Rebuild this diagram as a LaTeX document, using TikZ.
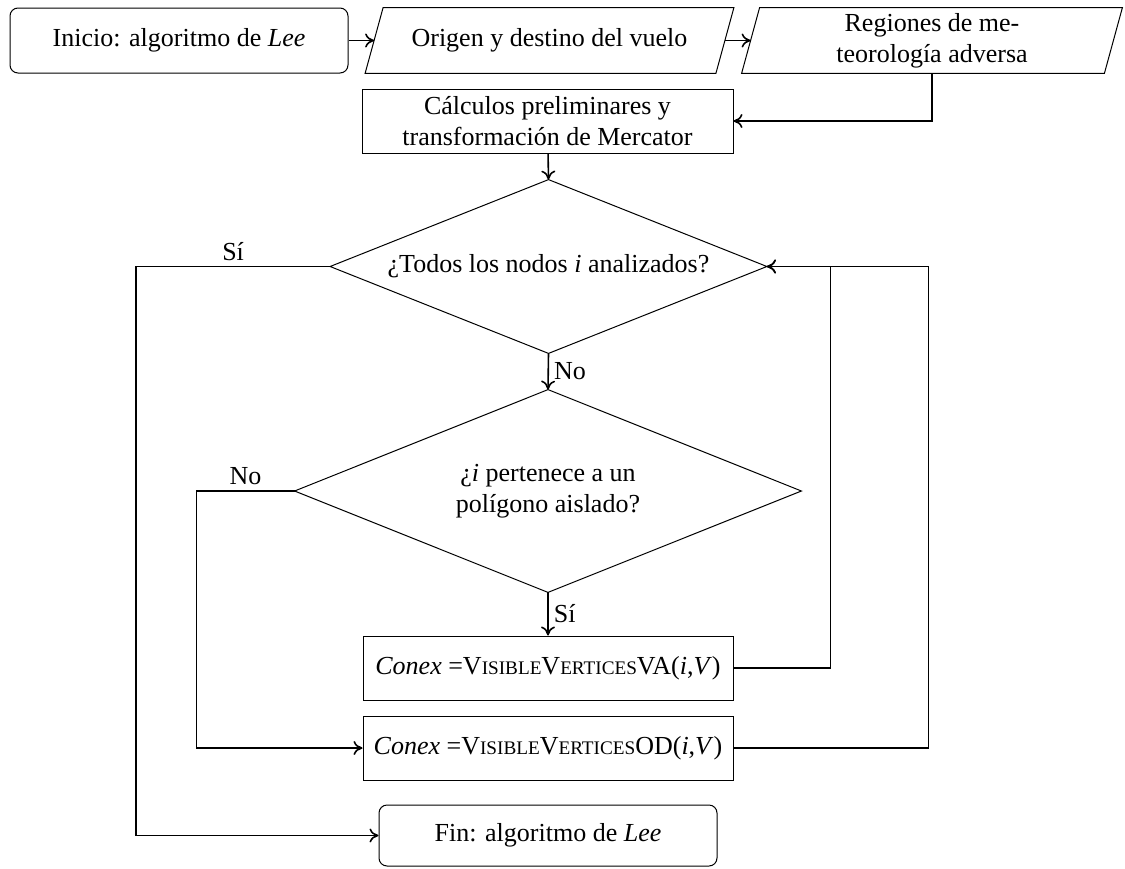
\documentclass[tikz,border=0pt]{standalone}
\usepackage{fontspec}
\setmainfont{Liberation Serif}
\usetikzlibrary{arrows.meta}
\newcommand\fakesc[1]{{\fontsize{9.6}{12}\selectfont #1}}
\newcommand\visver{V\fakesc{ISIBLE}V\fakesc{ERTICES}}
\begin{document}
\begin{tikzpicture}[x=0.5pt,y=-0.5pt,
  every node/.style={font=\fontsize{13}{15.6}\selectfont},
  box/.style={draw,line width=0.5pt,rectangle,inner sep=0pt,align=center},
  rbox/.style={box,rounded corners=4pt},
  ghost/.style={rectangle,inner sep=0pt,align=center},
  conn/.style={line width=0.8pt,-{To[length=4.5pt,width=7pt]}},
  lbl/.style={inner sep=2.5pt}]
\useasboundingbox (0,0) rectangle (1125,868);

\node[rbox,minimum width=169pt,minimum height=32.5pt] (start) at (179,40.5) {Inicio: algoritmo de \textit{Lee}};

\node[ghost,minimum width=175pt,minimum height=32.5pt] (orig) at (549.5,40.5) {Origen y destino del vuelo};
\draw[line width=0.5pt] ([xshift=-4.5pt]orig.south west) -- ([xshift=4.5pt]orig.north west) -- ([xshift=4.5pt]orig.north east) -- ([xshift=-4.5pt]orig.south east) -- cycle;

\node[ghost,minimum width=181pt,minimum height=32.5pt] (reg) at (932,40.5) {Regiones de me-\\teorología adversa};
\draw[line width=0.5pt] ([xshift=-4.5pt]reg.south west) -- ([xshift=4.5pt]reg.north west) -- ([xshift=4.5pt]reg.north east) -- ([xshift=-4.5pt]reg.south east) -- cycle;

\node[box,minimum width=185.5pt,minimum height=32pt] (cal) at (547.5,121) {Cálculos preliminares y\\transformación de Mercator};

\node[ghost,minimum width=218pt,minimum height=86.5pt] (d1) at (548.5,266.5) {¿Todos los nodos \textit{i} analizados?};
\draw[line width=0.5pt] (d1.north) -- (d1.east) -- (d1.south) -- (d1.west) -- cycle;

\node[ghost,minimum width=253pt,minimum height=101pt] (d2) at (548,491) {¿\textit{i} pertenece a un\\polígono aislado?};
\draw[line width=0.5pt] (d2.north) -- (d2.east) -- (d2.south) -- (d2.west) -- cycle;

\node[box,minimum width=185pt,minimum height=32pt] (va) at (548,668) {\textit{Conex} =\visver VA(\textit{i},\textit{V}\/)};
\node[box,minimum width=185pt,minimum height=32pt] (od) at (548,748) {\textit{Conex} =\visver OD(\textit{i},\textit{V}\/)};

\node[rbox,minimum width=169pt,minimum height=30.5pt] (fin) at (548,835.5) {Fin: algoritmo de \textit{Lee}};

% connectors
\draw[conn] (start) -- (orig);
\draw[conn] (orig) -- (reg);
\draw[conn] (reg.south) |- (cal.east);
\draw[conn] (cal) -- (d1.north);
\draw[conn] (d1.south) -- node[lbl,right]{No} (d2.north);
\draw[conn] (d2.south) -- node[lbl,right]{Sí} (va.north);
\draw[conn] (d1.west) -- node[lbl,above]{Sí} ++(-194,0) |- (fin.west);
\draw[conn] (d2.west) -- node[lbl,above]{No} ++(-98,0) |- (od.west);
\draw[conn] (va.east) -- ++(97,0) |- (d1.east);
\draw[conn] (od.east) -- ++(195,0) |- (d1.east);
\end{tikzpicture}
\end{document}
